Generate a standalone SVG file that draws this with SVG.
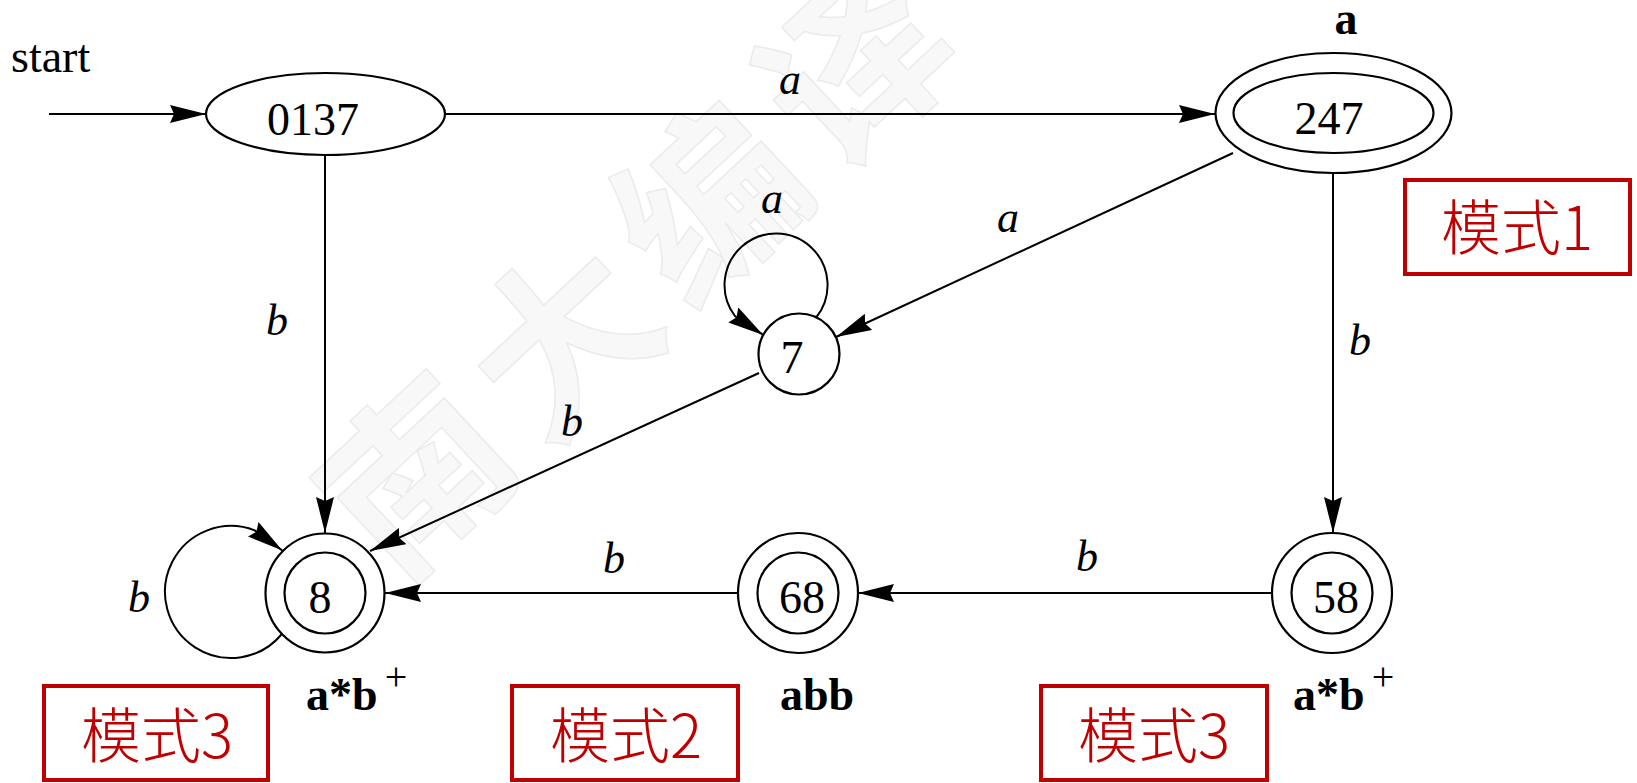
<svg xmlns="http://www.w3.org/2000/svg" width="1637" height="783" viewBox="0 0 1637 783">
<style>
.node{fill:none;stroke:#000;stroke-width:2.2}
.edge{fill:none;stroke:#000;stroke-width:2}
.num{font-family:"Liberation Serif","Times New Roman",serif;font-size:46px;fill:#000;text-anchor:middle}
.lab{font-family:"Liberation Serif","Times New Roman",serif;font-size:44px;font-style:italic;fill:#000;text-anchor:middle}
.acc{font-family:"Liberation Serif","Times New Roman",serif;font-size:46px;font-weight:bold;fill:#000}
.sup{font-family:"Liberation Serif","Times New Roman",serif;font-size:40px;fill:#000;text-anchor:middle}
.box{fill:none;stroke:#c00000;stroke-width:4}
.cjk{font-family:"Noto Sans CJK SC","Noto Sans",sans-serif;font-size:60px;font-weight:300;fill:#c00000;text-anchor:middle}
.wm{font-family:"Noto Sans CJK SC",sans-serif;font-size:180px;font-weight:bold;fill:#f8f8f8;stroke:#ebebeb;stroke-width:1.5;text-anchor:middle}
</style>
<defs>
<marker id="arr" viewBox="0 0 36 18" refX="36" refY="9" markerWidth="36" markerHeight="18" markerUnits="userSpaceOnUse" orient="auto">
<path d="M0,0 L36,9 L0,18 L4,9 z" fill="#000"/>
</marker>
</defs>
<rect width="1637" height="783" fill="#fff"/>
<g id="watermark">
<text class="wm" x="645" y="330" transform="rotate(-43 645 266)" letter-spacing="20">南大编译</text>
</g>
<text x="11" y="72" font-family="Liberation Serif, Times New Roman, serif" font-size="46">start</text>
<g id="connectors">
<line class="edge" x1="49" y1="114" x2="206" y2="114" marker-end="url(#arr)"/>
<line class="edge" x1="445" y1="114" x2="1215" y2="114" marker-end="url(#arr)"/>
<text class="lab" x="790" y="94">a</text>
<line class="edge" x1="325" y1="155" x2="325" y2="533" marker-end="url(#arr)"/>
<text class="lab" x="277" y="335">b</text>
<line class="edge" x1="1233" y1="153" x2="836" y2="337" marker-end="url(#arr)"/>
<text class="lab" x="1008" y="232">a</text>
<path class="edge" d="M816.2,317.3 A51.5,51.5 0 1,0 734.9,316 L763.2,334.9" marker-end="url(#arr)"/>
<text class="lab" x="772" y="213">a</text>
<line class="edge" x1="759" y1="373" x2="370" y2="551" marker-end="url(#arr)"/>
<text class="lab" x="572" y="436">b</text>
<line class="edge" x1="1333" y1="173" x2="1333" y2="533" marker-end="url(#arr)"/>
<text class="lab" x="1360" y="355">b</text>
<line class="edge" x1="1272" y1="593" x2="858" y2="593" marker-end="url(#arr)"/>
<text class="lab" x="1087" y="571">b</text>
<line class="edge" x1="738" y1="593" x2="385" y2="593" marker-end="url(#arr)"/>
<text class="lab" x="614" y="573">b</text>
<path class="edge" d="M282.3,633.5 A66,66 0 1,1 254.7,530.4 L282.3,550.5" marker-end="url(#arr)"/>
<text class="lab" x="139" y="612">b</text>
</g>
<g id="n0137">
<ellipse class="node" cx="325.5" cy="114" rx="119.5" ry="41"/>
<text class="num" x="313" y="135">0137</text>
</g>
<g id="n247">
<ellipse class="node" cx="1333.5" cy="113" rx="118" ry="60"/>
<ellipse class="node" cx="1333.5" cy="113" rx="100" ry="40"/>
<text class="num" x="1329" y="134">247</text>
<text class="acc" x="1346" y="34" text-anchor="middle">a</text>
</g>
<g id="n7">
<circle class="node" cx="799" cy="354" r="40.5"/>
<text class="num" x="792" y="373">7</text>
</g>
<g id="n8">
<circle class="node" cx="325" cy="593" r="59.5"/>
<circle class="node" cx="325" cy="593" r="40.5"/>
<text class="num" x="320" y="613">8</text>
<text class="acc" x="306" y="710">a*b</text>
<text class="sup" x="396" y="690">+</text>
</g>
<g id="n68">
<circle class="node" cx="798" cy="593" r="60"/>
<circle class="node" cx="798" cy="593" r="40.5"/>
<text class="num" x="802" y="613">68</text>
<text class="acc" x="817" y="710" text-anchor="middle">abb</text>
</g>
<g id="n58">
<circle class="node" cx="1332" cy="593" r="60"/>
<circle class="node" cx="1332" cy="593" r="40.5"/>
<text class="num" x="1336" y="613">58</text>
<text class="acc" x="1293" y="710">a*b</text>
<text class="sup" x="1383" y="690">+</text>
</g>
<g id="mode1">
<rect class="box" x="1405" y="180" width="225" height="94"/>
<text class="cjk" x="1517" y="250">模式1</text>
</g>
<g id="mode3a">
<rect class="box" x="44" y="686" width="224" height="94"/>
<text class="cjk" x="157" y="758">模式3</text>
</g>
<g id="mode2">
<rect class="box" x="512" y="686" width="226" height="94"/>
<text class="cjk" x="626" y="758">模式2</text>
</g>
<g id="mode3b">
<rect class="box" x="1041" y="686" width="226" height="94"/>
<text class="cjk" x="1154" y="758">模式3</text>
</g>
</svg>
